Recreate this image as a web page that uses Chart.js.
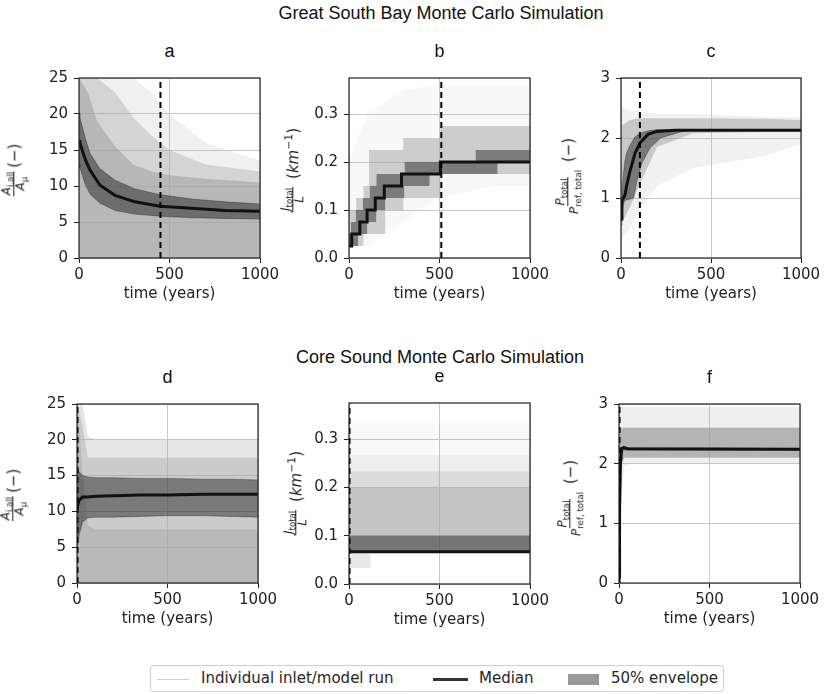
<!DOCTYPE html>
<html>
<head>
<meta charset="utf-8">
<script src="https://cdn.jsdelivr.net/npm/chart.js@4.4.0/dist/chart.umd.min.js"></script>
<style>
  body { margin: 0; background: #fff; width: 824px; height: 694px; position: relative; overflow: hidden; font-family: "DejaVu Sans", sans-serif; color: #222; }
  canvas { position: absolute; }
  .suptitle, .subtitle { position: absolute; transform: translate(-50%, -50%); font-family: "Liberation Sans", Arial, sans-serif; font-size: 18px; color: #111; white-space: nowrap; }
  .ylab { position: absolute; display: flex; align-items: center; white-space: nowrap; transform: translate(-50%, -50%) rotate(-90deg); color: #222; }
  .frac { display: inline-flex; flex-direction: column; align-items: center; font-size: 12px; line-height: 1.1; margin-right: 3px; }
  .frac > span:first-child { border-bottom: 1px solid #222; padding: 0 1px; }
  .unit { font-size: 15px; }
  sub, sup { font-size: 0.72em; line-height: 0; }
  #legend { position: absolute; left: 150px; top: 665px; width: 574px; height: 27px; border: 1px solid #d0d0d0; border-radius: 3px; box-sizing: border-box; font-size: 15px; color: #262626; }
  #legend .sw, #legend .lbl { position: absolute; }
  #legend .lbl { top: 3px; white-space: nowrap; }
</style>
</head>
<body>

<div class="suptitle" style="left:441px;top:13px">Great South Bay Monte Carlo Simulation</div>
<div class="suptitle" style="left:440px;top:357px">Core Sound Monte Carlo Simulation</div>

<div id="legend">
  <div class="sw" style="left:6px;top:13px;width:32px;height:1px;background:#cfcfcf"></div>
  <div class="lbl" style="left:50px">Individual inlet/model run</div>
  <div class="sw" style="left:282px;top:12px;width:35px;height:3px;background:#333"></div>
  <div class="lbl" style="left:328px">Median</div>
  <div class="sw" style="left:417px;top:8px;width:31px;height:11px;background:#999"></div>
  <div class="lbl" style="left:460px">50% envelope</div>
</div>

<script>
// shared ticks
const xTicks = [0, 500, 1000];
const yTicksArea = [0, 5, 10, 15, 20, 25];
const yTicksInlet = [0, 0.1, 0.2, 0.3];
const yTicksPrism = [0, 1, 2, 3];

// ---- Great South Bay: inlet area ratio (a)
const tA = [0, 5, 33, 61, 116, 199, 309, 448, 622, 807, 1000];
const medA = [16.4, 16.0, 13.8, 12.2, 10.1, 8.7, 7.8, 7.2, 6.9, 6.6, 6.5];
const q75A = [20.2, 19.5, 16.8, 14.5, 12.4, 10.8, 9.6, 8.8, 8.2, 7.8, 7.5];
const q25A = [13.0, 12.6, 10.3, 8.9, 7.6, 6.6, 6.1, 5.8, 5.6, 5.5, 5.4];
const tRunsA = [0, 50, 100, 200, 300, 400, 500, 700, 1000];
const runsFaintA = [25, 25, 25, 25, 25, 23, 20, 16, 13.5];
const runsMidA = [25, 25, 25, 23, 19.5, 17, 15, 13, 12];
const runsDenseA = [25, 23, 19, 15.5, 13, 12, 11.5, 11, 10.5];
const eqA = 450;

// ---- Great South Bay: inlets per length (b), stepped
const tMedB = [0, 15, 60, 100, 145, 195, 290, 505, 1000];
const medB = [0.025, 0.05, 0.075, 0.1, 0.125, 0.15, 0.175, 0.2, 0.2];
const tQ75B = [0, 11, 38, 77, 115, 152, 308, 700, 1000];
const q75B = [0.05, 0.075, 0.1, 0.125, 0.15, 0.175, 0.2, 0.225, 0.225];
const tQ25B = [0, 50, 100, 150, 200, 305, 445, 820, 1000];
const q25B = [0.025, 0.05, 0.075, 0.1, 0.125, 0.15, 0.175, 0.2, 0.2];
const tRunsB = [0, 40, 80, 110, 200, 300, 505, 1000];
const runsLoB = [0.025, 0.025, 0.05, 0.05, 0.1, 0.125, 0.175, 0.175];
const runsHiB = [0.1, 0.125, 0.15, 0.225, 0.225, 0.25, 0.275, 0.275];
const tFaintB = [0, 100, 300, 500, 800, 1000];
const faintLoB = [0.02, 0.025, 0.075, 0.125, 0.15, 0.15];
const faintHiB = [0.2, 0.3, 0.35, 0.36, 0.36, 0.36];
const eqB = 510;

// ---- Great South Bay: tidal prism ratio (c)
const tC = [0, 5, 13, 22, 31, 50, 78, 106, 150, 200, 300, 1000];
const medC = [0.65, 0.95, 1.0, 1.05, 1.2, 1.45, 1.75, 1.92, 2.06, 2.11, 2.13, 2.13];
const q75C = [0.85, 1.1, 1.4, 1.62, 1.75, 1.88, 2.02, 2.08, 2.12, 2.14, 2.14, 2.14];
const tQ25C = [0, 5, 13, 22, 70, 90, 115, 160, 220, 330, 400, 1000];
const q25C = [0.55, 0.78, 0.9, 0.96, 1.0, 1.3, 1.57, 1.83, 2.0, 2.1, 2.13, 2.13];
const tRunsC = [0, 25, 50, 100, 200, 400, 800, 1000];
const faintLoC = [0.3, 0.4, 0.5, 0.8, 1.2, 1.5, 1.7, 1.9];
const faintHiC = [2.5, 2.5, 2.45, 2.45, 2.4, 2.4, 2.35, 2.35];
const midLoC = [0.6, 0.7, 0.85, 1.2, 1.85, 2.08, 2.1, 2.1];
const midHiC = [2.2, 2.25, 2.3, 2.33, 2.33, 2.33, 2.32, 2.3];
const eqC = 105;

// ---- Core Sound: inlet area ratio (d)
const tD = [0, 10, 30, 60, 100, 200, 350, 500, 700, 850, 1000];
const medD = [10.5, 11.5, 12.0, 12.0, 12.1, 12.2, 12.3, 12.3, 12.4, 12.4, 12.4];
const q75D = [16.4, 15.6, 15.0, 14.8, 14.7, 14.7, 14.6, 14.6, 14.5, 14.5, 14.4];
const q25D = [4.5, 6.5, 8.5, 9.1, 9.2, 9.2, 9.3, 9.4, 9.4, 9.3, 9.2];
const tRunsD = [0, 30, 60, 100, 1000];
const runsFaintD = [25, 25, 20.5, 20, 20];
const runsMidD = [25, 22, 17.5, 17.5, 17.5];
const runsDenseD = [25, 16, 8, 7.5, 7.5];
const eqD = 3;

// ---- Core Sound: inlets per length (e)
const tE = [0, 1000];
const medE = [0.0667, 0.0667];
const q25E = [0.0667, 0.0667];
const q75E = [0.1, 0.1];
const runLevelsE = [0.0667, 0.2, 0.2333, 0.2667, 0.3333];
const tEarlyE = [0, 30, 120];
const earlyLoE = [0.0333, 0.0333, 0.0333];
const earlyHiE = [0.0667, 0.0667, 0.0667];
const eqE = 3;

// ---- Core Sound: tidal prism ratio (f)
const tF = [0, 3, 8, 15, 25, 50, 1000];
const medF = [0.1, 1.2, 2.0, 2.25, 2.27, 2.25, 2.24];
const q75F = [0.3, 1.6, 2.2, 2.28, 2.29, 2.27, 2.26];
const q25F = [0.05, 0.8, 1.8, 2.2, 2.22, 2.22, 2.22];
const tRunsF = [0, 5, 15, 30, 60, 1000];
const faintLoF = [0.2, 1.3, 1.5, 1.95, 2.0, 2.0];
const faintHiF = [2.9, 2.95, 2.95, 2.95, 2.95, 2.95];
const midLoF = [0.5, 1.6, 2.0, 2.1, 2.1, 2.1];
const midHiF = [2.5, 2.6, 2.6, 2.6, 2.6, 2.6];
const eqF = 3;

const ENVELOPE = "rgba(0,0,0,0.4)";

function pts(ts, vs) {
  return ts.map((t, i) => ({ x: t, y: vs[i] }));
}

function flat(ts, v) {
  return ts.map(() => v);
}

// a filled region between two curves (lower one first, upper fills to it)
function band(tLo, lo, tHi, hi, color, order, stepped = false, edge = "transparent") {
  return [
    { data: pts(tLo, lo), borderColor: edge, borderWidth: 1, pointRadius: 0, fill: false, order, stepped },
    { data: pts(tHi, hi), borderColor: edge, borderWidth: 1, pointRadius: 0, fill: "-1", backgroundColor: color, order, stepped },
  ];
}

function medianLine(ts, vs, stepped = false) {
  return { data: pts(ts, vs), borderColor: "#111", borderWidth: 3, pointRadius: 0, fill: false, order: 2, stepped };
}

function eqLine(t, yMax) {
  return { data: [{ x: t, y: 0 }, { x: t, y: yMax }], borderColor: "#000", borderWidth: 2, borderDash: [6, 4], pointRadius: 0, fill: false, order: 1 };
}

// four spines on top of the data
const framePlugin = {
  id: "frame",
  afterDatasetsDraw(chart) {
    const { ctx, chartArea: a } = chart;
    ctx.save();
    ctx.strokeStyle = "#222";
    ctx.lineWidth = 1.2;
    ctx.strokeRect(a.left, a.top, a.right - a.left, a.bottom - a.top);
    ctx.restore();
  },
};

const fracArea = '<span class="frac"><span><i>A</i><sub>i,all</sub></span><span><i>A</i><sub>μ</sub></span></span><span class="unit">(−)</span>';
const fracInlet = '<span class="frac"><span><i>J</i><sub>total</sub></span><span><i>L</i></span></span><span class="unit">&nbsp;(<i>km</i><sup>−1</sup>)</span>';
const fracPrism = '<span class="frac"><span><i>P</i><sub>total</sub></span><span><i>P</i><sub>ref, total</sub></span></span><span class="unit">&nbsp;(−)</span>';

const panels = [
  {
    name: "a", rect: [79, 77, 260, 258], yMax: 25, yTicks: yTicksArea, digits: 0, ylab: fracArea, ylabPos: [14, 170],
    datasets: [
      eqLine(eqA, 25),
      medianLine(tA, medA),
      ...band(tA, q25A, tA, q75A, ENVELOPE, 3, false, "rgba(0,0,0,0.3)"),
      ...band(tRunsA, flat(tRunsA, 0), tRunsA, runsDenseA, "rgba(160,160,160,0.55)", 5),
      ...band(tRunsA, flat(tRunsA, 0), tRunsA, runsMidA, "rgba(170,170,170,0.4)", 6),
      ...band(tRunsA, flat(tRunsA, 0), tRunsA, runsFaintA, "rgba(170,170,170,0.18)", 7),
    ],
  },
  {
    name: "b", rect: [349, 77, 530, 258], yMax: 0.375, yTicks: yTicksInlet, digits: 1, ylab: fracInlet, ylabPos: [293, 170],
    datasets: [
      eqLine(eqB, 0.375),
      medianLine(tMedB, medB, "before"),
      ...band(tQ25B, q25B, tQ75B, q75B, ENVELOPE, 3, "before"),
      ...band(tRunsB, runsLoB, tRunsB, runsHiB, "rgba(170,170,170,0.55)", 5, "before"),
      ...band(tFaintB, faintLoB, tFaintB, faintHiB, "rgba(180,180,180,0.09)", 6),
    ],
  },
  {
    name: "c", rect: [621, 77, 801, 258], yMax: 3, yTicks: yTicksPrism, digits: 0, ylab: fracPrism, ylabPos: [568, 176],
    datasets: [
      eqLine(eqC, 3),
      medianLine(tC, medC),
      ...band(tQ25C, q25C, tC, q75C, ENVELOPE, 3, false, "rgba(0,0,0,0.3)"),
      ...band(tRunsC, midLoC, tRunsC, midHiC, "rgba(165,165,165,0.55)", 5),
      ...band(tRunsC, faintLoC, tRunsC, faintHiC, "rgba(175,175,175,0.18)", 6),
    ],
  },
  {
    name: "d", rect: [77, 403, 258, 583], yMax: 25, yTicks: yTicksArea, digits: 0, ylab: fracArea, ylabPos: [13, 495],
    datasets: [
      eqLine(eqD, 25),
      medianLine(tD, medD),
      ...band(tD, q25D, tD, q75D, ENVELOPE, 3, false, "rgba(0,0,0,0.3)"),
      ...band(tRunsD, flat(tRunsD, 0), tRunsD, runsDenseD, "rgba(165,165,165,0.45)", 5),
      ...band(tRunsD, flat(tRunsD, 0), tRunsD, runsMidD, "rgba(170,170,170,0.45)", 6),
      ...band(tRunsD, flat(tRunsD, 0), tRunsD, runsFaintD, "rgba(170,170,170,0.3)", 7),
    ],
  },
  {
    name: "e", rect: [349, 402, 530, 584], yMax: 0.375, yTicks: yTicksInlet, digits: 1, ylab: fracInlet, ylabPos: [296, 493],
    datasets: [
      eqLine(eqE, 0.375),
      medianLine(tE, medE),
      ...band(tE, q25E, tE, q75E, ENVELOPE, 3),
      ...band(tE, flat(tE, runLevelsE[0]), tE, flat(tE, runLevelsE[1]), "rgba(165,165,165,0.65)", 5),
      ...band(tE, flat(tE, runLevelsE[1]), tE, flat(tE, runLevelsE[2]), "rgba(165,165,165,0.4)", 5),
      ...band(tE, flat(tE, runLevelsE[2]), tE, flat(tE, runLevelsE[3]), "rgba(165,165,165,0.2)", 5),
      ...band(tE, flat(tE, runLevelsE[3]), tE, flat(tE, runLevelsE[4]), "rgba(165,165,165,0.07)", 5),
      ...band(tEarlyE, earlyLoE, tEarlyE, earlyHiE, "rgba(165,165,165,0.25)", 6),
    ],
  },
  {
    name: "f", rect: [619, 403, 800, 583], yMax: 3, yTicks: yTicksPrism, digits: 0, ylab: fracPrism, ylabPos: [570, 498],
    datasets: [
      eqLine(eqF, 3),
      medianLine(tF, medF),
      ...band(tF, q25F, tF, q75F, ENVELOPE, 3),
      ...band(tRunsF, midLoF, tRunsF, midHiF, "rgba(155,155,155,0.7)", 5),
      ...band(tRunsF, faintLoF, tRunsF, faintHiF, "rgba(175,175,175,0.2)", 6),
    ],
  },
];

const PAD_L = 12, AXIS_W = 60, PAD_T = 14, PAD_R = 28, AXIS_H = 48;
const tickFont = { family: "DejaVu Sans", size: 15 };

function gridOpts() {
  return { color: "#c8c8c8", lineWidth: 1, tickColor: "#222", tickLength: 5, drawTicks: true };
}

panels.forEach((p) => {
  const [L, T, R, B] = p.rect;
  const canvas = document.createElement("canvas");
  canvas.width = R - L + PAD_L + AXIS_W + PAD_R;
  canvas.height = B - T + PAD_T + AXIS_H;
  canvas.style.left = L - PAD_L - AXIS_W + "px";
  canvas.style.top = T - PAD_T + "px";
  document.body.appendChild(canvas);

  const sub = document.createElement("div");
  sub.className = "subtitle";
  sub.textContent = p.name;
  sub.style.left = (L + R) / 2 + "px";
  sub.style.top = T - 26 + "px";
  document.body.appendChild(sub);

  const yl = document.createElement("div");
  yl.className = "ylab";
  yl.innerHTML = p.ylab;
  yl.style.left = p.ylabPos[0] + "px";
  yl.style.top = p.ylabPos[1] + "px";
  document.body.appendChild(yl);

  new Chart(canvas, {
    type: "line",
    data: { datasets: p.datasets },
    plugins: [framePlugin],
    options: {
      responsive: false,
      animation: false,
      devicePixelRatio: 1,
      layout: { padding: { left: PAD_L, top: PAD_T, right: PAD_R, bottom: 0 } },
      plugins: { legend: { display: false }, tooltip: { enabled: false }, filler: { propagate: false } },
      scales: {
        x: {
          type: "linear",
          min: 0,
          max: 1000,
          afterBuildTicks: (s) => { s.ticks = xTicks.map((v) => ({ value: v })); },
          afterFit: (s) => { s.height = AXIS_H; },
          ticks: { font: tickFont, color: "#222", padding: 3, maxRotation: 0, callback: (v) => String(v) },
          grid: gridOpts(),
          border: { display: false },
          title: { display: true, text: "time (years)", font: tickFont, color: "#222", padding: { top: 0, bottom: 3 } },
        },
        y: {
          type: "linear",
          min: 0,
          max: p.yMax,
          afterBuildTicks: (s) => { s.ticks = p.yTicks.map((v) => ({ value: v })); },
          afterFit: (s) => { s.width = AXIS_W; },
          ticks: { font: tickFont, color: "#222", padding: 6, callback: (v) => v.toFixed(p.digits) },
          grid: gridOpts(),
          border: { display: false },
        },
      },
    },
  });
});
</script>
</body>
</html>
